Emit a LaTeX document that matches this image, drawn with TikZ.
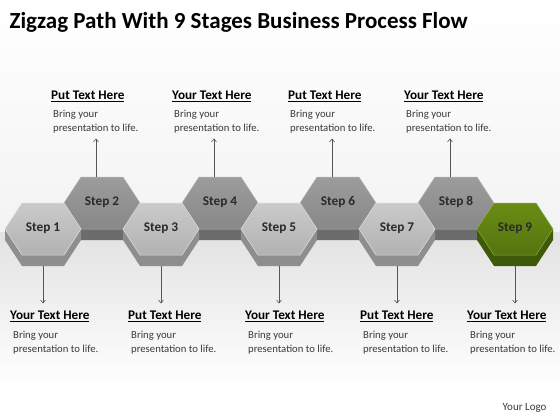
\documentclass[tikz,border=0pt]{standalone}
\usepackage{fontspec}
\setmainfont{Carlito}
\usetikzlibrary{arrows.meta}

\definecolor{bgtop}{HTML}{F3F3F3}
\definecolor{bgband}{HTML}{E2E2E2}
\definecolor{eventop}{HTML}{9C9C9C}
\definecolor{evenbot}{HTML}{888888}
\definecolor{evenside}{HTML}{6C6C6C}
\definecolor{evenrim}{HTML}{B4B4B4}
\definecolor{oddtop}{HTML}{CACACA}
\definecolor{oddbot}{HTML}{B2B2B2}
\definecolor{oddside}{HTML}{8E8E8E}
\definecolor{oddrim}{HTML}{DDDDDD}
\definecolor{greentop}{HTML}{6A8C14}
\definecolor{greenbot}{HTML}{547510}
\definecolor{greenside}{HTML}{3E5A08}
\definecolor{greenrim}{HTML}{88A838}
\definecolor{labelgray}{HTML}{2A2A2A}
\definecolor{bodygray}{HTML}{3A3A3A}
\definecolor{arrowgray}{HTML}{555555}

\tikzset{
  stagelabel/.style={font=\bfseries\fontsize{13.3}{15}\selectfont, text=labelgray, inner sep=0pt},
  headtext/.style={anchor=west, font=\bfseries\fontsize{13.2}{15}\selectfont, inner sep=0pt},
  bodytext/.style={anchor=north west, align=left, font=\fontsize{10.7}{14}\selectfont, text=bodygray, inner sep=0pt},
  pointer/.style={-{Straight Barb[length=3pt,width=5pt]}, line width=0.6pt, draw=arrowgray},
}

\begin{document}
\begin{tikzpicture}[x=1pt, y=-1pt]
\useasboundingbox (0,0) rectangle (560,420);
\fill[white] (0,0) rectangle (560,420);
\shade[top color=white, bottom color=bgtop] (0,0) rectangle (560,232);
\shade[top color=bgband, bottom color=white] (0,232) rectangle (560,385);

\node[anchor=west, font=\bfseries\fontsize{23}{26}\selectfont] (title) at (6,22) {Zigzag Path With 9 Stages Business Process Flow};

% hexagons: upper row first, lower row in front
\foreach \i/\cx/\cy/\k in {2/102/203/even, 4/220/203/even, 6/338/203/even, 8/456/203/even,
                           1/43/229/odd, 3/161/229/odd, 5/279/229/odd, 7/397/229/odd, 9/515/229/green}{
  \begin{scope}[shift={(\cx,\cy)}]
    \fill[fill=\k side] (-38,0) -- (-21,26) -- (21,26) -- (38,0) -- (38,11) -- (21,37) -- (-21,37) -- (-38,11) -- cycle;
    \shade[top color=\k top, bottom color=\k bot, draw=\k rim, line width=0.5pt]
      (-38,0) -- (-21,-26) -- (21,-26) -- (38,0) -- (21,26) -- (-21,26) -- cycle;
    \node[stagelabel] (s\i) at (0,-1) {Step \i};
    \coordinate (up\i) at (-6,-26);
    \coordinate (dn\i) at (0,37);
  \end{scope}
}

% texts above
\foreach \i/\hx/\head in {2/51/Put Text Here, 4/172/Your Text Here, 6/288/Put Text Here, 8/404/Your Text Here}{
  \node[headtext] (h\i) at (\hx,96) {\underline{\head}};
  \node[bodytext] (b\i) at (\hx+2,110) {Bring your\\presentation to life.};
  \draw[pointer, shorten >=5pt] (up\i) -- (up\i |- b\i.south);
}

% texts below
\foreach \i/\hx/\head in {1/10/Your Text Here, 3/128/Put Text Here, 5/245/Your Text Here, 7/360/Put Text Here, 9/467/Your Text Here}{
  \node[headtext] (h\i) at (\hx,316) {\underline{\head}};
  \node[bodytext] (b\i) at (\hx+3,331) {Bring your\\presentation to life.};
  \draw[pointer, shorten >=7pt] (dn\i) -- (dn\i |- h\i.north);
}

\node[anchor=east, font=\fontsize{11}{13}\selectfont, text=bodygray] (logo) at (550,408) {Your Logo};
\end{tikzpicture}
\end{document}
